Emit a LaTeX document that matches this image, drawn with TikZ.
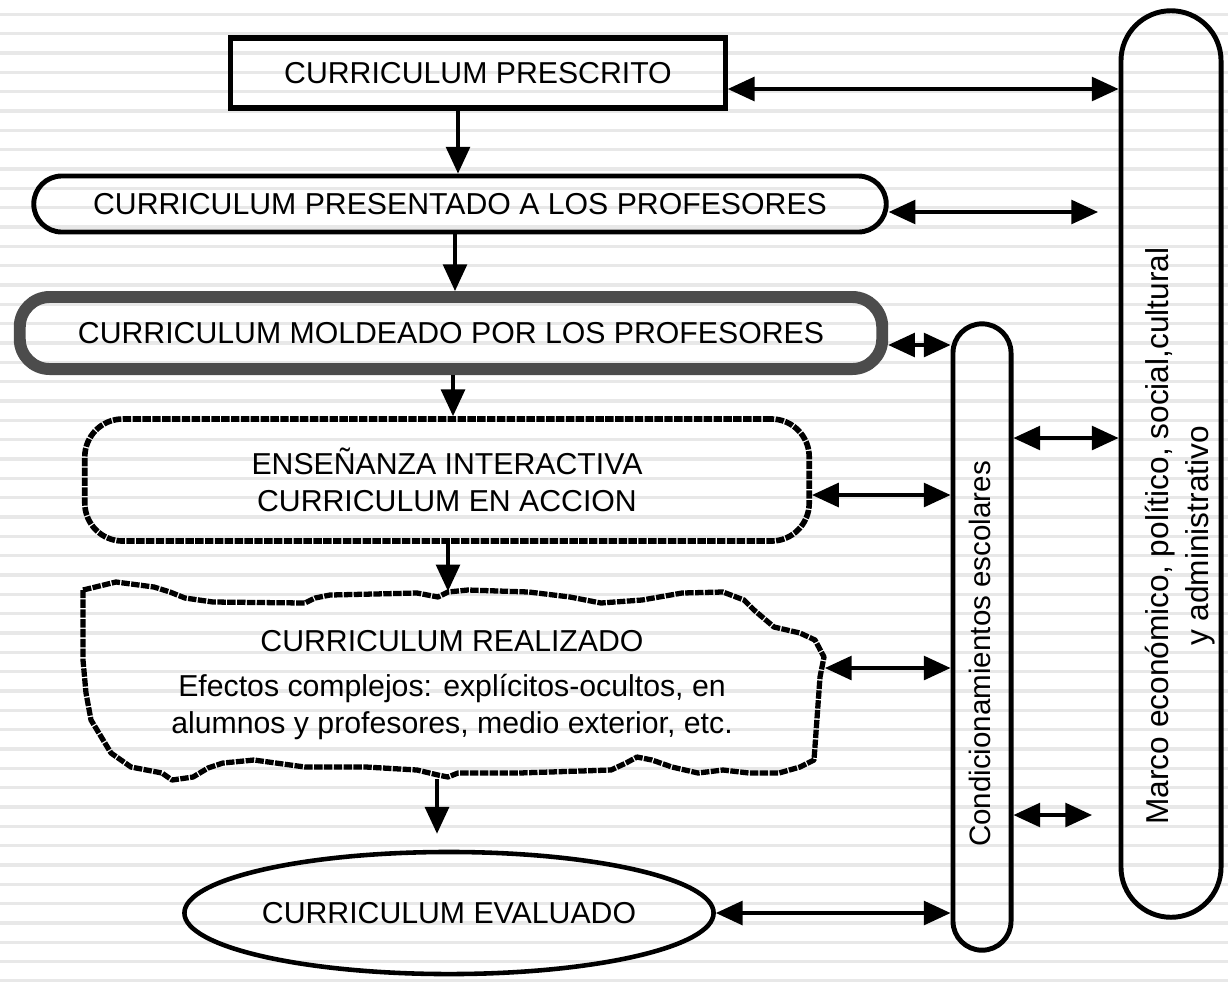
\documentclass[tikz,border=0pt]{standalone}
\usepackage{fontspec}
\setmainfont{Liberation Sans}
\usetikzlibrary{arrows.meta,shapes.geometric}

\begin{document}
\begin{tikzpicture}[x=0.01cm,y=-0.01cm,
   >={Triangle[length=7.6pt,width=6.8pt]},
   every node/.style={font=\fontsize{8.6}{10.5}\selectfont, inner sep=0pt},
   flecha/.style={<->, line width=0.9pt},
   baja/.style={->, line width=0.9pt},
   caja/.style={draw, line width=1.5pt},
   redonda/.style={draw, line width=1.4pt, rounded corners=0.28cm},
   gruesa/.style={draw=black!70, line width=3.4pt, rounded corners=0.3cm},
   cuerda/.style={draw, line width=1.6pt, dash pattern=on 2.4pt off 0.4pt, line join=round},
   vertical/.style={rotate=90, align=center}]
   \useasboundingbox (0,0) rectangle (1228,981);
   \fill[white] (0,0) rectangle (1228,981);
   \foreach \k in {0,...,50}
      \draw[black!9, line width=1pt] (0,14.4+19.33*\k) -- (1228,14.4+19.33*\k);

   \node[caja, minimum width=4.94cm, minimum height=0.70cm] (pres) at (478,73) {CURRICULUM PRESCRITO};
   \node[redonda, minimum width=8.52cm, minimum height=0.56cm] (prof) at (460,204) {CURRICULUM PRESENTADO A LOS PROFESORES};
   \node[gruesa, minimum width=8.62cm, minimum height=0.72cm] (mold) at (451,333) {CURRICULUM MOLDEADO POR LOS PROFESORES};
   \node[cuerda, rounded corners=0.38cm, minimum width=7.24cm, minimum height=1.22cm, align=center] (ense) at (447,480)
      {ENSEÑANZA INTERACTIVA\\CURRICULUM EN ACCION};
   \node[minimum width=7.44cm, minimum height=1.86cm, align=center] (real) at (452,685)
      {CURRICULUM REALIZADO\\[2.3pt]Efectos complejos: explícitos-ocultos, en\\alumnos y profesores, medio exterior, etc.};
   \node[ellipse, draw, line width=1.3pt, minimum width=5.18cm, minimum height=1.22cm] (eval) at (449,913) {CURRICULUM EVALUADO};
   \node[redonda, rounded corners=0.29cm, minimum width=0.58cm, minimum height=6.26cm] (cond) at (982,637) {};
   \node[redonda, rounded corners=0.5cm, minimum width=1.00cm, minimum height=9.06cm] (marco) at (1171,464) {};
   \node[vertical, font=\fontsize{8.4}{10}\selectfont] (condtxt) at (980,654) {Condicionamientos escolares};
   \node[vertical, font=\fontsize{9}{11.4}\selectfont] (marcotxt) at (1180,536)
      {Marco económico, político, social,cultural\\y administrativo};

   % borde roto del curriculum realizado
   \draw[cuerda, line width=1.5pt] (83,590) -- (116,582) -- (154,587) -- (170,592) -- (185,598) -- (213,602)
      -- (305,603) -- (315,598) -- (330,595) -- (417,593) -- (438,597) -- (448,592) -- (468,590)
      -- (529,592) -- (570,597) -- (601,603) -- (642,600) -- (682,593) -- (723,592) -- (744,600)
      -- (754,610) -- (774,627) -- (800,633) -- (815,640) -- (824,657) -- (820,677) -- (814,760)
      -- (800,767) -- (779,773) -- (749,773) -- (723,770) -- (698,773) -- (672,767) -- (652,760)
      -- (637,757) -- (626,763) -- (611,770) -- (519,773) -- (458,773) -- (448,777) -- (438,775)
      -- (417,770) -- (366,767) -- (305,767) -- (254,760) -- (223,763) -- (208,768) -- (193,777)
      -- (172,780) -- (162,773) -- (131,767) -- (111,753) -- (91,720) -- (86,693) -- (83,660)
      -- (83,627) -- cycle;

   \coordinate (profend) at (1098,212);
   \coordinate (marcoend) at (1092,815);

   \draw[baja] (pres.south -| 458,0) -- (prof.north -| 458,0);
   \draw[baja] (prof.south -| 455,0) -- (mold.north -| 455,0);
   \draw[baja] (mold.south -| 453,0) -- (ense.north -| 453,0);
   \draw[baja] (ense.south -| 448,0) -- (real.north -| 448,0);
   \draw[baja, shorten >=0.16cm] (real.south -| 437,0) -- (eval.north -| 437,0);

   \draw[flecha] (pres.east |- 0,89) -- (marco.west |- 0,89);
   \draw[flecha] (prof.east |- profend) -- (profend);
   \draw[flecha] (mold.east |- 0,345) -- (cond.west |- 0,345);
   \draw[flecha] (cond.east |- 0,438) -- (marco.west |- 0,438);
   \draw[flecha] (ense.east |- 0,495) -- (cond.west |- 0,495);
   \draw[flecha] (real.east |- 0,668) -- (cond.west |- 0,668);
   \draw[flecha] (cond.east |- marcoend) -- (marcoend);
   \draw[flecha] (eval.east) -- (cond.west |- eval.east);
\end{tikzpicture}
\end{document}
